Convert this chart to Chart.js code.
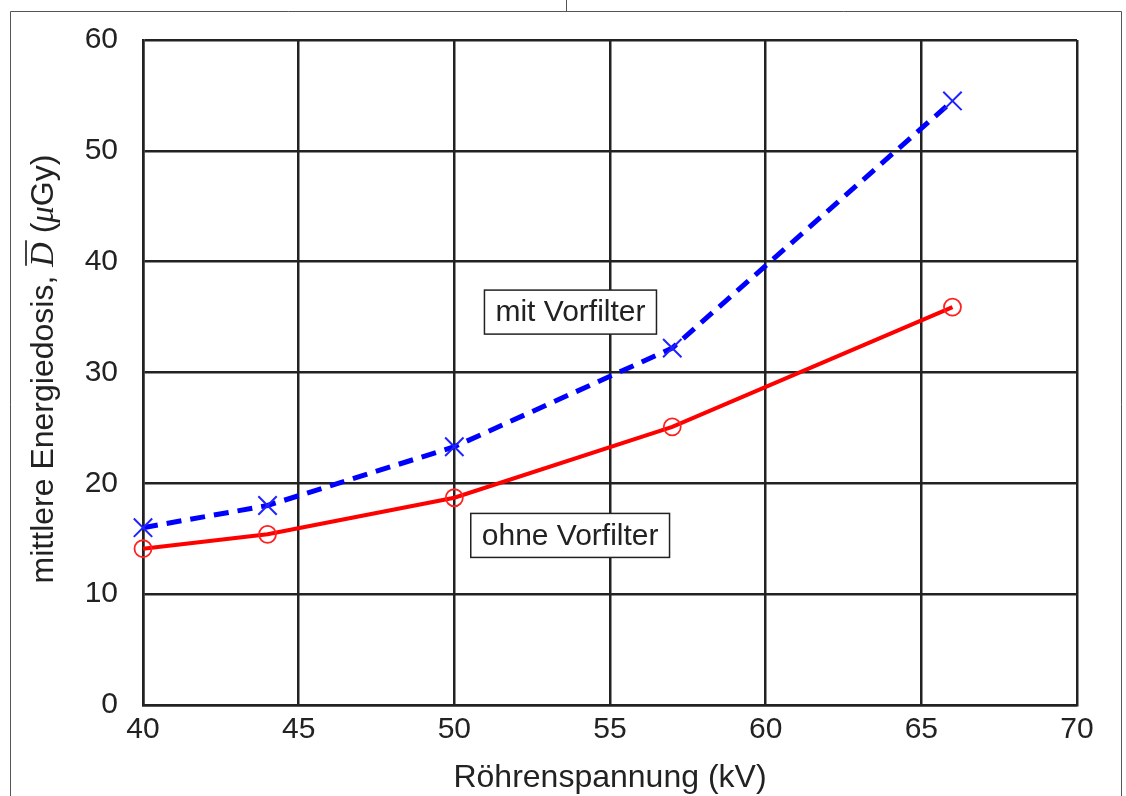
<!DOCTYPE html>
<html>
<head>
<meta charset="utf-8">
<script src="https://cdn.jsdelivr.net/npm/chart.js@4/dist/chart.umd.min.js"></script>
<style>
html,body{margin:0;padding:0;background:#fff;}
#wrap{width:1126px;height:796px;position:relative;}
</style>
</head>
<body>
<div id="wrap"><canvas id="c" width="1126" height="796"></canvas></div>
<script>
const voltages = [40, 44, 50, 57, 66];
const mitVorfilter = [16.0, 18.0, 23.3, 32.2, 54.5];
const ohneVorfilter = [14.1, 15.4, 18.7, 25.1, 35.9];
const xTicks = [40, 45, 50, 55, 60, 65, 70];
const yTicks = [0, 10, 20, 30, 40, 50, 60];
const labelTexts = ['mit Vorfilter', 'ohne Vorfilter'];
const labelX = [53.73, 53.72];
const labelY = [35.45, 15.3];
const xTitle = 'Röhrenspannung (kV)';
const yTitleParts = ['mittlere Energiedosis, ', 'D', ' (', 'μ', 'Gy)'];

const FONT = '"Liberation Sans", Arial, Helvetica, sans-serif';

const framePlugin = {
  id: 'frame',
  beforeDraw(chart) {
    const ctx = chart.ctx;
    ctx.save();
    ctx.fillStyle = '#fff';
    ctx.fillRect(0, 0, chart.width, chart.height);
    ctx.strokeStyle = '#555';
    ctx.lineWidth = 1;
    ctx.beginPath();
    ctx.moveTo(10.5, 800); ctx.lineTo(10.5, 11.5); ctx.lineTo(1121.5, 11.5); ctx.lineTo(1121.5, 800);
    ctx.moveTo(566.5, 0); ctx.lineTo(566.5, 11.5);
    ctx.stroke();
    ctx.restore();
  }
};

const labelPlugin = {
  id: 'labels',
  afterDatasetsDraw(chart) {
    const ctx = chart.ctx;
    const xs = chart.scales.x, ys = chart.scales.y;
    ctx.save();
    ctx.font = '30px ' + FONT;
    ctx.textAlign = 'center';
    ctx.textBaseline = 'middle';
    labelTexts.forEach((t, i) => {
      const cx = xs.getPixelForValue(labelX[i]);
      const cy = ys.getPixelForValue(labelY[i]);
      const w = ctx.measureText(t).width + 22;
      const h = 44;
      ctx.fillStyle = '#fff';
      ctx.fillRect(cx - w / 2, cy - h / 2, w, h);
      ctx.strokeStyle = '#222';
      ctx.lineWidth = 1.5;
      ctx.strokeRect(cx - w / 2, cy - h / 2, w, h);
      ctx.fillStyle = '#222';
      ctx.fillText(t, cx, cy + 1);
    });
    ctx.restore();
  }
};

const yTitlePlugin = {
  id: 'ytitle',
  afterDraw(chart) {
    const ctx = chart.ctx;
    ctx.save();
    const fonts = [
      '32px ' + FONT,
      'italic 34px "Liberation Serif", "DejaVu Serif", serif',
      '32px ' + FONT,
      'italic 33px "Liberation Serif", "DejaVu Serif", serif',
      '32px ' + FONT
    ];
    let total = 0;
    const widths = yTitleParts.map((p, i) => { ctx.font = fonts[i]; const w = ctx.measureText(p).width; total += w; return w; });
    const cy = 369;
    ctx.translate(44, cy);
    ctx.rotate(-Math.PI / 2);
    ctx.fillStyle = '#222';
    ctx.textBaseline = 'middle';
    ctx.textAlign = 'left';
    let x = -total / 2;
    yTitleParts.forEach((p, i) => {
      ctx.font = fonts[i];
      ctx.fillText(p, x, 0);
      if (i === 1) {
        ctx.strokeStyle = '#222';
        ctx.lineWidth = 1.7;
        ctx.beginPath();
        ctx.moveTo(x + 1, -18);
        ctx.lineTo(x + widths[i] + 2, -18);
        ctx.stroke();
      }
      x += widths[i];
    });
    ctx.restore();
  }
};

new Chart(document.getElementById('c'), {
  type: 'line',
  data: {
    datasets: [
      {
        label: 'mit Vorfilter',
        data: voltages.map((v, i) => ({ x: v, y: mitVorfilter[i] })),
        borderColor: '#0000ff',
        borderWidth: 5,
        borderDash: [15, 9],
        pointStyle: 'crossRot',
        pointRadius: 13,
        pointBorderWidth: 2,
        pointBorderColor: '#2222ff',
        pointBackgroundColor: 'rgba(0,0,0,0)',
        tension: 0,
        fill: false,
        clip: false
      },
      {
        label: 'ohne Vorfilter',
        data: voltages.map((v, i) => ({ x: v, y: ohneVorfilter[i] })),
        borderColor: '#ff0000',
        borderWidth: 4,
        pointStyle: 'circle',
        pointRadius: 8.5,
        pointBorderWidth: 1.8,
        pointBorderColor: '#ff2020',
        pointBackgroundColor: 'rgba(0,0,0,0)',
        tension: 0,
        fill: false,
        clip: false
      }
    ]
  },
  options: {
    responsive: false,
    animation: false,
    events: [],
    layout: { padding: { left: 0, top: 40, right: 49, bottom: 0 } },
    plugins: { legend: { display: false }, tooltip: { enabled: false } },
    scales: {
      x: {
        type: 'linear',
        min: 40, max: 70,
        afterBuildTicks(s) { s.ticks = xTicks.map(v => ({ value: v })); },
        afterFit(s) { s.height = 91; s.paddingLeft = 0; s.paddingRight = 0; },
        grid: { color: '#222', lineWidth: 2.5, drawTicks: false },
        border: { color: '#222', width: 2.5 },
        ticks: { color: '#222', font: { family: FONT, size: 30 }, padding: 7, maxRotation: 0 },
        title: { display: true, text: xTitle, color: '#222', font: { family: FONT, size: 32, lineHeight: 1.1 }, padding: { top: 0, bottom: 0 } }
      },
      y: {
        type: 'linear',
        min: 0, max: 60,
        afterBuildTicks(s) { s.ticks = yTicks.map(v => ({ value: v })); },
        afterFit(s) { s.width = 143; s.paddingTop = 0; s.paddingBottom = 0; },
        grid: { color: '#222', lineWidth: 2.5, drawTicks: false },
        border: { color: '#222', width: 2.5 },
        ticks: { color: '#222', font: { family: FONT, size: 30 }, padding: 25 }
      }
    }
  },
  plugins: [framePlugin, labelPlugin, yTitlePlugin]
});
</script>
</body>
</html>
